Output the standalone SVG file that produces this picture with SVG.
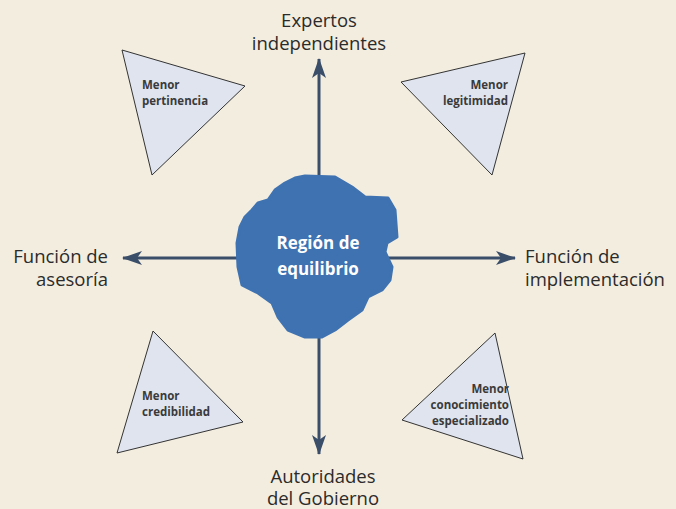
<svg xmlns="http://www.w3.org/2000/svg" width="676" height="509" viewBox="0 0 676 509">
<defs>
<marker id="ah" viewBox="0 0 20 14" refX="19" refY="7" markerWidth="20" markerHeight="14" markerUnits="userSpaceOnUse" orient="auto">
<path d="M0,0 L20,7 L0,14 L5,7 Z" fill="#3a4d69"/>
</marker>
<style>
.lbl{font-family:"Open Sans","Noto Sans",sans-serif;font-size:18.5px;fill:#2b2b2b}
.tri{fill:#dfe4ee;stroke:#333;stroke-width:1}
.tl{font-family:"Open Sans","Noto Sans",sans-serif;font-size:11.5px;font-weight:bold;fill:#3a3a3a}
.ctr{font-family:"Open Sans","Noto Sans",sans-serif;font-size:17px;font-weight:bold;fill:#fff}
.conn{stroke:#3a4d69;stroke-width:3;fill:none}
</style>
</defs>
<rect width="676" height="509" fill="#f3eddf"/>
<g id="connectors">
<line class="conn" x1="319" y1="258" x2="319" y2="59" marker-end="url(#ah)"/>
<line class="conn" x1="319" y1="258" x2="319" y2="454" marker-end="url(#ah)"/>
<line class="conn" x1="319" y1="258" x2="123" y2="258" marker-end="url(#ah)"/>
<line class="conn" x1="319" y1="258" x2="515" y2="258" marker-end="url(#ah)"/>
</g>
<g id="center">
<path d="M305,176 L335,177 L352,187 L365,197 L388,198 L395,210 L397,237 L387,243 L385,252 L392,267 L390,280 L382,290 L368,297 L362,310 L348,320 L335,330 L322,337 L305,337 L288,330 L278,317 L272,303 L258,293 L242,285 L238,267 L237,243 L240,227 L245,217 L252,210 L258,203 L268,200 L275,190 L285,183 L295,178 Z" fill="#3e72b1" stroke="#3e72b1" stroke-width="3" stroke-linejoin="round"/>
<text class="ctr" x="318" y="249" text-anchor="middle">Región de</text>
<text class="ctr" x="318" y="275" text-anchor="middle">equilibrio</text>
</g>
<g id="top"><text class="lbl" x="319" y="27" text-anchor="middle">Expertos</text><text class="lbl" x="319" y="50" text-anchor="middle">independientes</text></g>
<g id="bottom"><text class="lbl" x="323" y="483" text-anchor="middle">Autoridades</text><text class="lbl" x="323" y="505" text-anchor="middle">del Gobierno</text></g>
<g id="left"><text class="lbl" x="108" y="263" text-anchor="end">Función de</text><text class="lbl" x="108" y="286" text-anchor="end">asesoría</text></g>
<g id="right"><text class="lbl" x="525" y="263">Función de</text><text class="lbl" x="525" y="286">implementación</text></g>
<g id="tri-tl"><polygon class="tri" points="122,50 245,86 152,175"/><text class="tl" x="142" y="89">Menor</text><text class="tl" x="142" y="105">pertinencia</text></g>
<g id="tri-tr"><polygon class="tri" points="401,82 525,53 492,175"/><text class="tl" x="508" y="89" text-anchor="end">Menor</text><text class="tl" x="508" y="105" text-anchor="end">legitimidad</text></g>
<g id="tri-bl"><polygon class="tri" points="153,331 243,422 117,453"/><text class="tl" x="142" y="400">Menor</text><text class="tl" x="142" y="416">credibilidad</text></g>
<g id="tri-br"><polygon class="tri" points="495,333 402,420 523,459"/><text class="tl" x="509" y="393" text-anchor="end">Menor</text><text class="tl" x="509" y="409" text-anchor="end">conocimiento</text><text class="tl" x="509" y="425" text-anchor="end">especializado</text></g>
</svg>
